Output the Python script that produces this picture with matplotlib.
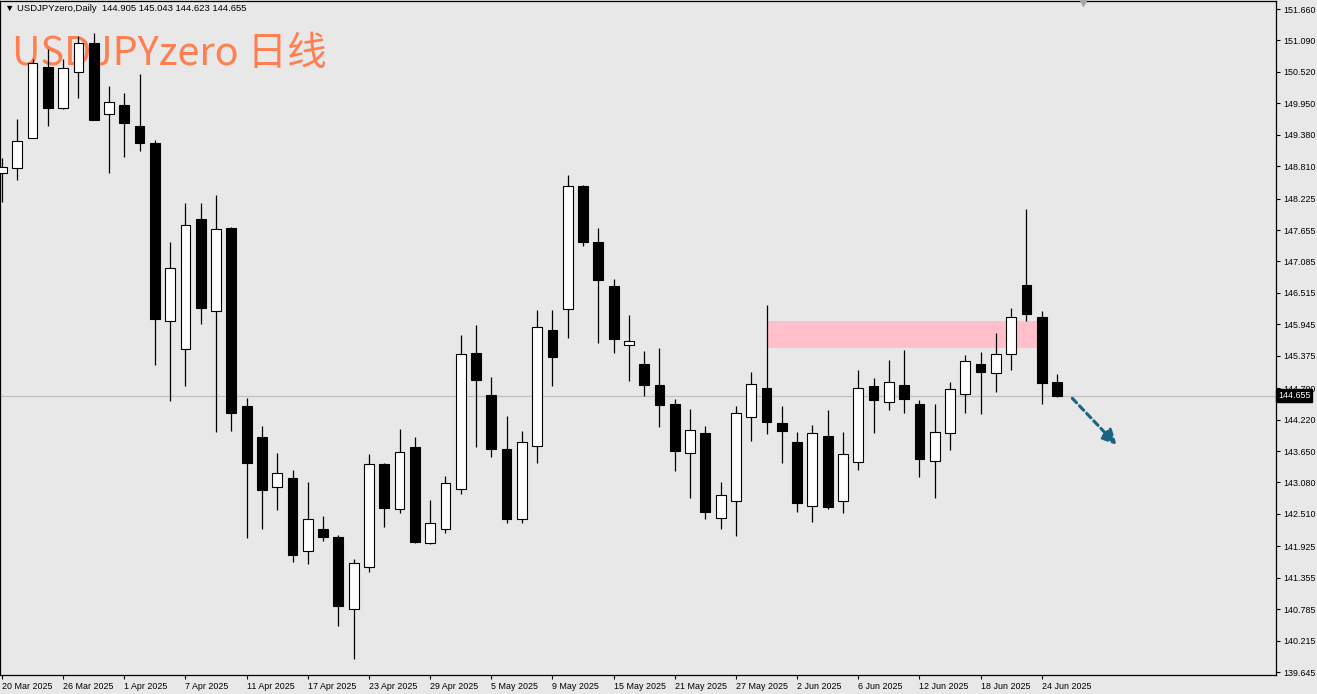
import numpy as np
import matplotlib
matplotlib.use("Agg")
import matplotlib.pyplot as plt
from matplotlib.patches import Rectangle

# daily bars, 20 Mar 2025 .. 25 Jun 2025
opens = [148.69, 148.77, 149.33, 150.61, 149.87, 150.51, 151.04, 149.75, 149.92, 149.54,
         149.23, 146.01, 145.49, 147.85, 146.19, 147.69, 144.47, 143.91, 142.99, 143.16,
         141.84, 142.23, 142.10, 140.78, 141.54, 143.41, 142.60, 143.72, 141.98, 142.23,
         142.96, 145.43, 144.66, 143.68, 142.42, 143.74, 145.84, 146.22, 148.45, 147.43,
         146.64, 145.58, 145.23, 144.85, 144.51, 143.62, 143.98, 142.43, 142.75, 144.26,
         144.80, 144.15, 143.82, 142.65, 143.93, 142.75, 143.45, 144.83, 144.53, 144.85,
         144.50, 143.46, 143.97, 144.68, 145.23, 145.06, 145.41, 146.66, 146.08, 144.905]
highs = [148.96, 149.67, 150.75, 150.93, 150.75, 151.17, 151.22, 150.26, 150.14, 150.49,
         149.28, 147.44, 148.15, 148.14, 148.29, 147.71, 144.61, 144.10, 143.62, 143.31,
         143.09, 142.47, 142.13, 141.69, 143.60, 143.43, 144.05, 143.90, 142.76, 143.20,
         145.75, 145.93, 145.00, 144.28, 144.01, 146.21, 146.20, 148.65, 148.47, 147.69,
         146.77, 146.11, 145.46, 145.51, 144.59, 144.41, 144.10, 143.09, 144.47, 145.09,
         146.30, 144.47, 144.00, 144.12, 144.39, 144.00, 145.11, 144.97, 145.30, 145.48,
         144.57, 144.50, 144.90, 145.39, 145.44, 145.78, 146.24, 148.04, 146.19, 145.043]
lows = [148.16, 148.57, 149.32, 149.54, 149.84, 150.04, 149.64, 148.69, 148.97, 149.09,
        145.20, 144.56, 144.82, 145.96, 143.99, 144.02, 142.08, 142.23, 142.59, 141.64,
        141.61, 142.02, 140.48, 139.89, 141.45, 142.28, 142.52, 141.99, 141.97, 142.16,
        142.88, 143.72, 143.55, 142.35, 142.35, 143.44, 144.83, 145.69, 147.37, 145.61,
        145.42, 144.92, 144.65, 144.09, 143.29, 142.80, 142.42, 142.23, 142.11, 143.84,
        143.96, 143.44, 142.54, 142.37, 142.60, 142.53, 143.31, 143.98, 144.39, 144.33,
        143.18, 142.79, 143.66, 144.34, 144.32, 144.72, 145.12, 146.01, 144.50, 144.623]
closes = [148.80, 149.27, 150.69, 149.87, 150.59, 151.04, 149.65, 149.97, 149.59, 149.23,
          146.04, 146.96, 147.75, 146.25, 147.68, 144.33, 143.43, 142.94, 143.25, 141.77,
          142.41, 142.10, 140.85, 141.62, 143.41, 142.61, 143.63, 142.01, 142.34, 143.07,
          145.41, 144.94, 143.69, 142.41, 143.81, 145.89, 145.35, 148.46, 147.44, 146.74,
          145.68, 145.64, 144.85, 144.48, 143.65, 144.03, 142.55, 142.85, 144.33, 144.86,
          144.17, 144.02, 142.70, 143.97, 142.64, 143.60, 144.79, 144.57, 144.90, 144.59,
          143.50, 143.99, 144.77, 145.29, 145.09, 145.41, 146.07, 146.13, 144.89, 144.655]

date_labels = ["20 Mar 2025", "26 Mar 2025", "1 Apr 2025", "7 Apr 2025", "11 Apr 2025",
               "17 Apr 2025", "23 Apr 2025", "29 Apr 2025", "5 May 2025", "9 May 2025",
               "15 May 2025", "21 May 2025", "27 May 2025", "2 Jun 2025", "6 Jun 2025",
               "12 Jun 2025", "18 Jun 2025", "24 Jun 2025"]
price_ticks = [151.660, 151.090, 150.520, 149.950, 149.380, 148.810, 148.225, 147.655,
               147.085, 146.515, 145.945, 145.375, 144.790, 144.220, 143.650, 143.080,
               142.510, 141.925, 141.355, 140.785, 140.215, 139.645]

bid = 144.655
zone_bars = (50, 68)          # pink resistance zone, bar range
zone_prices = (145.522, 146.006)
arrow_from = (70.0, 144.605)
arrow_to = (72.9, 143.759)

BG = "#e8e8e8"
W, H = 1317, 694

fig = plt.figure(figsize=(W / 100, H / 100), dpi=100, facecolor=BG)
ax = fig.add_axes([0.0, 19 / H, 1276 / W, 674 / H], facecolor=BG)

x = np.arange(len(opens))
o = np.array(opens)
c = np.array(closes)
bull = c >= o

# wicks
ax.vlines(x, lows, highs, color="black", lw=0.9, zorder=3)
# bodies
bottoms = np.minimum(o, c)
heights = np.maximum(np.abs(c - o), 0.02)
ax.bar(x, heights, bottom=bottoms, width=0.64,
       color=np.where(bull, "white", "black"), edgecolor="black", linewidth=0.8, zorder=4)

# zone, bid line, arrow
ax.add_patch(Rectangle((zone_bars[0], zone_prices[0]), zone_bars[1] - zone_bars[0],
                       zone_prices[1] - zone_prices[0], facecolor="#ffc0cb", edgecolor="none",
                       zorder=1))
ax.axhline(bid, color="#c0c0c0", lw=0.9, zorder=1.5)
ax.annotate("", xy=arrow_to, xytext=arrow_from,
            arrowprops=dict(arrowstyle="-|>,head_length=0.9,head_width=0.45", color="#1b6283",
                            lw=2.2, linestyle=(0, (2, 1.4)), shrinkA=0, shrinkB=0), zorder=5)

ax.set_xlim(-0.13, 83.32)
ax.set_ylim(139.591, 151.805)

ax.yaxis.tick_right()
ax.set_yticks(price_ticks)
ax.set_yticklabels([f"{p:.3f}" for p in price_ticks])
ax.set_xticks(x[::4][:len(date_labels)])
ax.set_xticklabels(date_labels, ha="left")
ax.tick_params(axis="both", direction="out", length=3, width=0.8, color="black",
               labelsize=6.4, pad=2)
for lab in ax.get_xticklabels() + ax.get_yticklabels():
    lab.set_family("Liberation Sans")
for s in ax.spines.values():
    s.set_color("black")
    s.set_linewidth(0.9)

# current price label on the scale
ax.text(1.0015, bid, "144.655", transform=ax.get_yaxis_transform(), ha="left", va="center",
        fontsize=6.4, family="Liberation Sans", color="white", zorder=10, clip_on=False,
        bbox=dict(boxstyle="square,pad=0.2", fc="black", ec="black"))

# shift marker
ax.plot([70.7], [151.77], marker="v", color="#a8a8a8", ms=5, zorder=6, clip_on=False)

ax.text(5 / 1276, 1 - 8 / 674, "\u25bc USDJPYzero,Daily  144.905 145.043 144.623 144.655",
        transform=ax.transAxes, ha="left", va="center", fontsize=6.8,
        family=["Liberation Sans", "DejaVu Sans"], color="black", zorder=6)
ax.text(12 / 1276, 1 - 64 / 674, "USDJPYzero 日线", transform=ax.transAxes,
        ha="left", va="baseline", fontsize=28.5, color="#ff7f50",
        family=["Noto Sans CJK SC", "DejaVu Sans"], zorder=2)

fig.savefig("out.png", dpi=100, facecolor=BG)
